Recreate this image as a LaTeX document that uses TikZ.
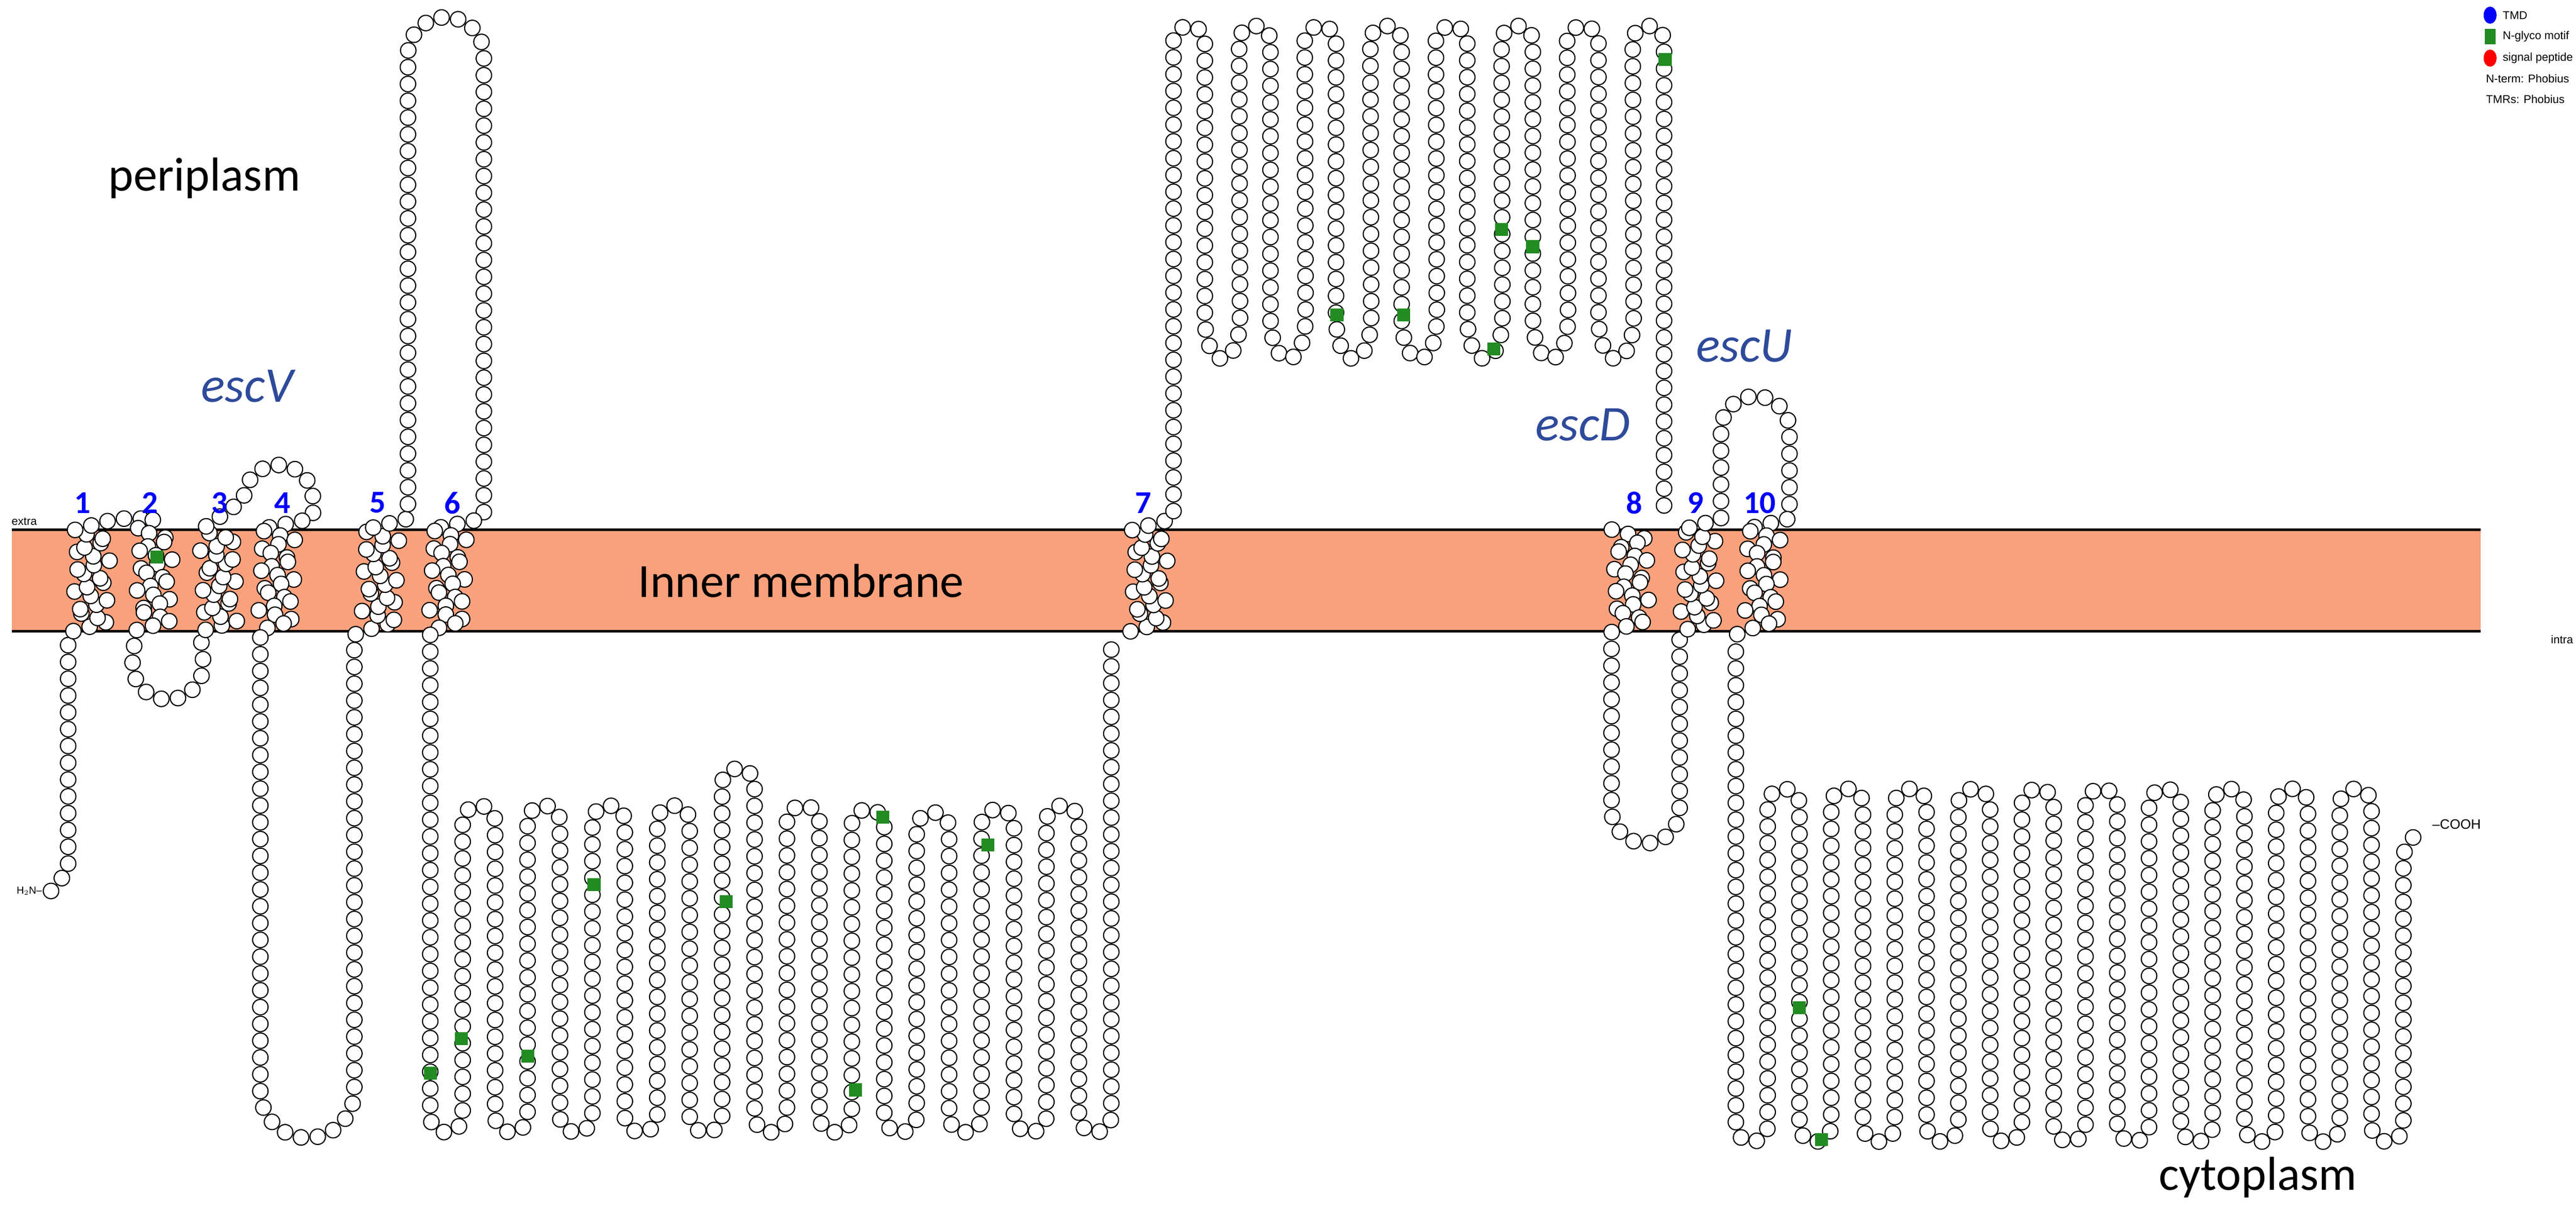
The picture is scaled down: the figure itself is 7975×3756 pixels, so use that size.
\documentclass[tikz,border=0pt]{standalone}
\usepackage{fontspec}
\setmainfont{Carlito}
\newfontfamily\arial{Liberation Sans}
\usepackage{tikz}
\usetikzlibrary{positioning,shapes.geometric,decorations.markings}
\definecolor{membr}{HTML}{F9A17C}
\definecolor{esc}{HTML}{2E4A9A}
\definecolor{glyco}{HTML}{228B22}
\def\big#1{{\fontsize{42}{48}\selectfont #1}}
\tikzset{
  res/.style={postaction={decorate,decoration={markings,
      mark=between positions 0 and 1 step 0.52cm with
      {\draw[fill=white,line width=1pt] (0,0) circle (0.24cm);}}}},
  tmup/.style={insert path={-- ++(115,31.2) -- ++(-115,31.2) -- ++(115,31.2) -- ++(-115,31.2)
      -- ++(115,31.2) -- ++(-115,31.2) -- ++(115,31.2) -- ++(-115,31.2) -- ++(115,31.2) -- ++(-115,31.2)}},
  tmdown/.style={insert path={-- ++(115,-31.2) -- ++(-115,-31.2) -- ++(115,-31.2) -- ++(-115,-31.2)
      -- ++(115,-31.2) -- ++(-115,-31.2) -- ++(115,-31.2) -- ++(-115,-31.2) -- ++(115,-31.2) -- ++(-115,-31.2)}},
  tmno/.style={text=blue, font={\fontsize{28}{32}\selectfont\bfseries}},
  gname/.style={text=esc, font={\fontsize{44}{50}\selectfont\itshape}},
  glyc/.style={fill=glyco, minimum size=0.4cm, inner sep=0pt},
  small/.style={font={\arial\fontsize{10}{12}\selectfont}, inner sep=1pt},
  legtxt/.style={font={\arial\fontsize{10}{12}\selectfont}, inner sep=1pt, anchor=west}
}
\begin{document}
\begin{tikzpicture}[x=0.01cm,y=0.01cm]
    \useasboundingbox (0,0) rectangle (7975,3756);
    % membrane
    \fill[membr] (36,1801) rectangle (7680,2116);
    \draw[line width=2.2pt] (36,2116) -- (7680,2116);
    \draw[line width=2.2pt] (36,1801) -- (7680,1801);
    \node[small, anchor=south west] (ext) at (32,2125) {extra};
    \node[small, anchor=north east] (int) at (7970,1792) {intra};
    \node (mem) at (2480,1958) {\big{Inner membrane}};
    \node (peri) at (633,3205) {\big{periplasm}};
    \node (cyto) at (6990,110) {\big{cytoplasm}};
    \node[gname] (escv) at (766,2560) {escV};
    \node[gname] (escd) at (4900,2440) {escD};
    \node[gname] (escu) at (5400,2685) {escU};

    % chain, N-term to TM6
    \path[res] (158,997) -- (211,1060) -- (211,1790)
      -- (225,1801) [tmup] -- (362,2150) -- (480,2150)
      -- (420,2116) [tmdown]
      -- (410,1700) arc[start angle=180,end angle=360,radius=110]
      -- (620,1801) [tmup]
      -- (755,2209) arc[start angle=180,end angle=0,radius=107] -- (969,2150)
      -- (800,2116) [tmdown]
      -- (806,1790) -- (806,378) arc[start angle=180,end angle=360,radius=145.5] -- (1097,1790)
      -- (1120,1801) [tmup]
      -- (1263,2150) -- (1263,3585) arc[start angle=180,end angle=0,radius=117.5] -- (1498,2150)
      -- (1330,2116) [tmdown];
    % cytoplasmic loop TM6-TM7
    \path[res] (1332,1790)
      \foreach \t [count=\i from 0] in {1211,1211,1211,1211,1326,1211,1200,1190,1200,1211} {
        -- ({1332+200.8*\i},300) arc[start angle=180,end angle=360,radius=50.2]
        -- ({1432.4+200.8*\i},\t) arc[start angle=180,end angle=0,radius=50.2] }
      -- (3340,300) arc[start angle=180,end angle=360,radius=50.2] -- (3440.4,1790);
    % TM7 and periplasmic loop
    \path[res] (3500,1801) [tmup]
      -- (3633,2150)
      \foreach \i in {0,...,6} {
        -- ({3633+203.1*\i},3627) arc[start angle=180,end angle=0,radius=48.5]
        -- ({3730+203.1*\i},2780) .. controls +(0,-180) and +(0,-180) .. ({3839+203.1*\i},2780) }
      -- (5054.7,3627) arc[start angle=180,end angle=0,radius=48.5] -- (5151.7,2150);
    % TM8 to TM10
    \path[res] (4990,2116) [tmdown]
      -- (4989,1790) -- (4989,1250) arc[start angle=180,end angle=360,radius=105.5] -- (5200,1790)
      -- (5200,1801) [tmup]
      -- (5328,2150) -- (5328,2423) arc[start angle=180,end angle=0,radius=106] -- (5540,2150)
      -- (5400,2116) [tmdown]
      -- (5374,1790);
    % cytoplasmic C-terminal region
    \path[res] (5374,1738)
      \foreach \t [count=\i from 0] in {1264,1264,1264,1264,1264,1264,1264,1264,1264,1264} {
        -- ({5374+196.8*\i},270) arc[start angle=180,end angle=360,radius=49.2]
        -- ({5472.4+196.8*\i},\t) arc[start angle=180,end angle=0,radius=49.2] }
      -- (7342,270) arc[start angle=180,end angle=360,radius=49.2] -- (7440.4,1112)
      -- (7472,1165) -- (7500,1197);
    \node[small, font={\arial\fontsize{9}{11}\selectfont}, anchor=east] (nterm) at (134,997) {H$_2$N–};
    \node[small, anchor=west, font={\arial\fontsize{12}{14}\selectfont}] (cterm) at (7526,1203) {–COOH};

    % N-glyco motifs
    \foreach \gx/\gy [count=\k] in {485/2031, 1332/433, 1429/540, 1634/486, 1839/1017, 2248/964,
        2648/381, 2733/1226, 3058/1140, 4139/2780, 4345/2780, 4624/2675, 4648/3046, 4745/2992,
        5155/3572, 5571/636, 5639/227}
      \node[glyc] (g\k) at (\gx,\gy) {};

    % TM numbers
    \foreach \n/\tx in {1/255, 2/465, 3/680, 4/875, 5/1170, 6/1400, 7/3539, 8/5060, 9/5249, 10/5448}
      \node[tmno] (tm\n) at (\tx,2199) {\n};

    % legend
    \node[ellipse, fill=blue, minimum width=0.4cm, minimum height=0.53cm, inner sep=0pt] (lgtmd) at (7709,3709) {};
    \node[legtxt] at (7744,3709) {TMD};
    \node[fill=glyco, minimum width=0.33cm, minimum height=0.47cm, inner sep=0pt] (lgngl) at (7709,3643) {};
    \node[legtxt] at (7744,3643) {N-glyco motif};
    \node[ellipse, fill=red, minimum width=0.4cm, minimum height=0.53cm, inner sep=0pt] (lgsig) at (7709,3576) {};
    \node[legtxt] at (7744,3576) {signal peptide};
    \node[legtxt] (lgnt) at (7692,3512) {N-term: Phobius};
    \node[legtxt] (lgtm) at (7692,3449) {TMRs: Phobius};
  \end{tikzpicture}
\end{document}
